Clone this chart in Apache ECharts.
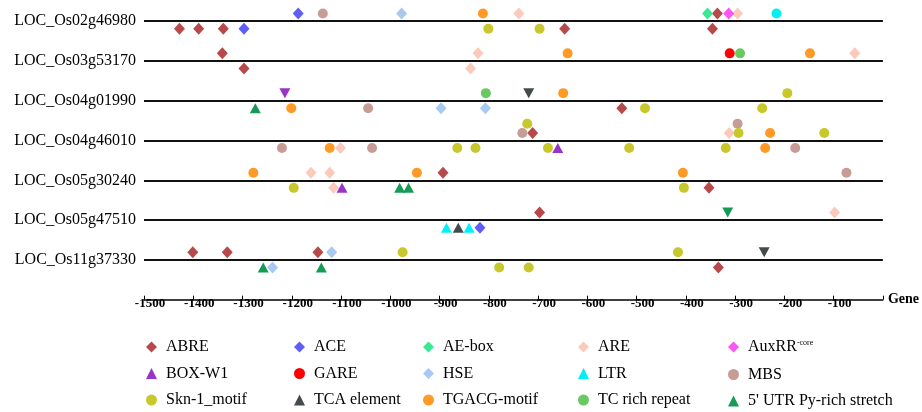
<!DOCTYPE html>
<html>
<head>
<meta charset="utf-8">
<script src="https://cdn.jsdelivr.net/npm/echarts@6/dist/echarts.min.js"></script>
<style>
  html, body { margin: 0; padding: 0; background: #fff; }
  #chart { width: 922px; height: 412px; }
</style>
</head>
<body>
<div id="chart"></div>
<script>
// gene rows, top to bottom
const genes = ['LOC_Os02g46980', 'LOC_Os03g53170', 'LOC_Os04g01990', 'LOC_Os04g46010',
  'LOC_Os05g30240', 'LOC_Os05g47510', 'LOC_Os11g37330']

// each site: [position, gene row, level]  level 1 = above line, -1 = below, 2 = stacked higher
const abre = [[-1428, 0, -1], [-1389, 0, -1], [-1339, 0, -1], [-646, 0, -1], [-336, 0, 1], [-346, 0, -1],
  [-1341, 1, 1], [-1297, 1, -1], [-530, 2, -1], [-711, 3, 1], [-893, 4, 1], [-353, 4, -1], [-697, 5, 1],
  [-1401, 6, 1], [-1331, 6, 1], [-1147, 6, 1], [-334, 6, -1]]
const ace = [[-1297, 0, -1], [-1187, 0, 1], [-818, 5, -1]]
const aeBox = [[-356, 0, 1]]
const are = [[-739, 0, 1], [-295, 0, 1], [-822, 1, 1], [-837, 1, -1], [-57, 1, 1], [-1101, 3, -1], [-312, 3, 1],
  [-1161, 4, 1], [-1123, 4, 1], [-1115, 4, -1], [-98, 5, 1]]
const auxrr = [[-313, 0, 1]]
const boxW1 = [[-1214, 2, 1], [-660, 3, -1], [-1098, 4, -1]]
const gare = [[-311, 1, 1]]
const hse = [[-977, 0, 1], [-897, 2, -1], [-807, 2, -1], [-1119, 6, 1], [-1239, 6, -1]]
const ltr = [[-216, 0, 1], [-886, 5, -1], [-840, 5, -1]]
const mbs = [[-1137, 0, 1], [-1045, 2, -1], [-1220, 3, -1], [-1037, 3, -1], [-732, 3, 1], [-295, 3, 2],
  [-178, 3, -1], [-74, 4, 1]]
const skn = [[-801, 0, -1], [-697, 0, -1], [-194, 2, 1], [-483, 2, -1], [-245, 2, -1], [-864, 3, -1],
  [-827, 3, -1], [-722, 3, 2], [-680, 3, -1], [-515, 3, -1], [-319, 3, -1], [-293, 3, 1], [-119, 3, 1],
  [-1196, 4, -1], [-404, 4, -1], [-975, 6, 1], [-779, 6, -1], [-719, 6, -1], [-416, 6, 1]]
const tca = [[-719, 2, 1], [-862, 5, -1], [-241, 6, 1]]
const tgacg = [[-812, 0, 1], [-640, 1, 1], [-148, 1, 1], [-1201, 2, -1], [-649, 2, 1], [-1123, 3, -1],
  [-229, 3, 1], [-239, 3, -1], [-1278, 4, 1], [-946, 4, 1], [-406, 4, 1]]
const tcRich = [[-290, 1, 1], [-806, 2, 1]]
const utr = [[-1274, 2, -1], [-981, 4, -1], [-963, 4, -1], [-315, 5, 1], [-1258, 6, -1], [-1140, 6, -1]]

const xTicks = { min: -1500, max: 0, step: 100 }

const elements = [
  { name: 'ABRE', data: abre, symbol: 'diamond', color: '#b8494a' },
  { name: 'ACE', data: ace, symbol: 'diamond', color: '#5f5ff7' },
  { name: 'AE-box', data: aeBox, symbol: 'diamond', color: '#36ea94' },
  { name: 'ARE', data: are, symbol: 'diamond', color: '#fbcabb' },
  { name: 'AuxRR-core', data: auxrr, symbol: 'diamond', color: '#fb55f5' },
  { name: 'BOX-W1', data: boxW1, symbol: 'triangle', color: '#9a34c8' },
  { name: 'GARE', data: gare, symbol: 'circle', color: '#ff0000' },
  { name: 'HSE', data: hse, symbol: 'diamond', color: '#a9c9f1' },
  { name: 'LTR', data: ltr, symbol: 'triangle', color: '#00f0f5' },
  { name: 'MBS', data: mbs, symbol: 'circle', color: '#c79c95' },
  { name: 'Skn-1_motif', data: skn, symbol: 'circle', color: '#c8c82c' },
  { name: 'TCA element', data: tca, symbol: 'triangle', color: '#434c4c' },
  { name: 'TGACG-motif', data: tgacg, symbol: 'circle', color: '#ff9a26' },
  { name: 'TC rich repeat', data: tcRich, symbol: 'circle', color: '#68c963' },
  { name: "5' UTR Py-rich stretch", data: utr, symbol: 'triangle', color: '#169b57' }
]

const levelOffset = { '1': 0.19, '-1': -0.19, '2': 0.42 }
const sizes = { diamond: [11, 12], circle: 10, triangle: [11, 10] }
const serif = "'Liberation Serif', 'Times New Roman', serif"

const series = elements.map((el) => ({
  name: el.name,
  type: 'scatter',
  symbol: el.symbol,
  symbolSize: sizes[el.symbol],
  itemStyle: { color: el.color, opacity: 1 },
  data: el.data.map((d) => {
    const item = { value: [d[0], genes.length - d[1] + levelOffset[d[2]]] }
    // triangles above the line point down
    if (el.symbol === 'triangle' && d[2] > 0) item.symbolRotate = 180
    // the cyan mark on the first gene is drawn as a dot
    if (el.name === 'LTR' && d[1] === 0) { item.symbol = 'circle'; item.symbolSize = 10 }
    return item
  })
}))

// gene lines with their names on the left
series.push({
  name: 'genes',
  type: 'line',
  data: [],
  markLine: {
    silent: true,
    symbol: ['none', 'none'],
    animation: false,
    lineStyle: { color: '#111', width: 2, type: 'solid' },
    label: { position: 'start', distance: 8, formatter: '{b}', color: '#000', fontSize: 16, fontFamily: serif },
    data: genes.map((g, i) => ({ yAxis: genes.length - i, name: g }))
  }
})

const legendCols = [
  ['ABRE', 'BOX-W1', 'Skn-1_motif'],
  ['ACE', 'GARE', 'TCA element'],
  ['AE-box', 'HSE', 'TGACG-motif'],
  ['ARE', 'LTR', 'TC rich repeat'],
  ['AuxRR-core', 'MBS', "5' UTR Py-rich stretch"]
]
const legendLeft = [146, 294, 423, 578, 728]

const legends = legendCols.map((col, i) => ({
  orient: 'vertical',
  left: legendLeft[i],
  top: 339,
  itemWidth: 11,
  itemHeight: 11,
  itemGap: 10.5,
  padding: 0,
  selectedMode: false,
  data: col,
  formatter: (name) => name === 'AuxRR-core' ? 'AuxRR{sup|-core}' : name,
  textStyle: {
    fontFamily: serif,
    fontSize: 16,
    lineHeight: 16,
    color: '#000',
    padding: [0, 0, 0, 4],
    rich: {
      sup: { fontSize: 8, fontFamily: serif, color: '#000', verticalAlign: 'top', lineHeight: 16, padding: [0, 0, 9, 0] }
    }
  }
}))

const chart = echarts.init(document.getElementById('chart'), null, { renderer: 'canvas' })
chart.setOption({
  animation: false,
  backgroundColor: '#fff',
  grid: { left: 144, right: 35, top: 2, bottom: 94, containLabel: false },
  legend: legends,
  xAxis: {
    type: 'value',
    min: xTicks.min,
    max: xTicks.max,
    interval: xTicks.step,
    name: 'Gene',
    nameLocation: 'end',
    nameGap: 5,
    nameTextStyle: { fontFamily: serif, fontWeight: 'bold', fontSize: 14, color: '#000' },
    axisLine: { lineStyle: { color: '#000', width: 1.5 } },
    axisTick: { inside: true, length: 4, lineStyle: { color: '#000', width: 1 } },
    axisLabel: {
      inside: true,
      margin: 8,
      fontFamily: serif,
      fontWeight: 'bold',
      fontSize: 13,
      color: '#000',
      padding: [0, 0, 0, 12],
      formatter: (v) => v === 0 ? '' : String(v)
    },
    splitLine: { show: false }
  },
  yAxis: {
    type: 'value',
    min: -0.46,
    max: 7.48,
    show: false
  },
  series: series
})
</script>
</body>
</html>
